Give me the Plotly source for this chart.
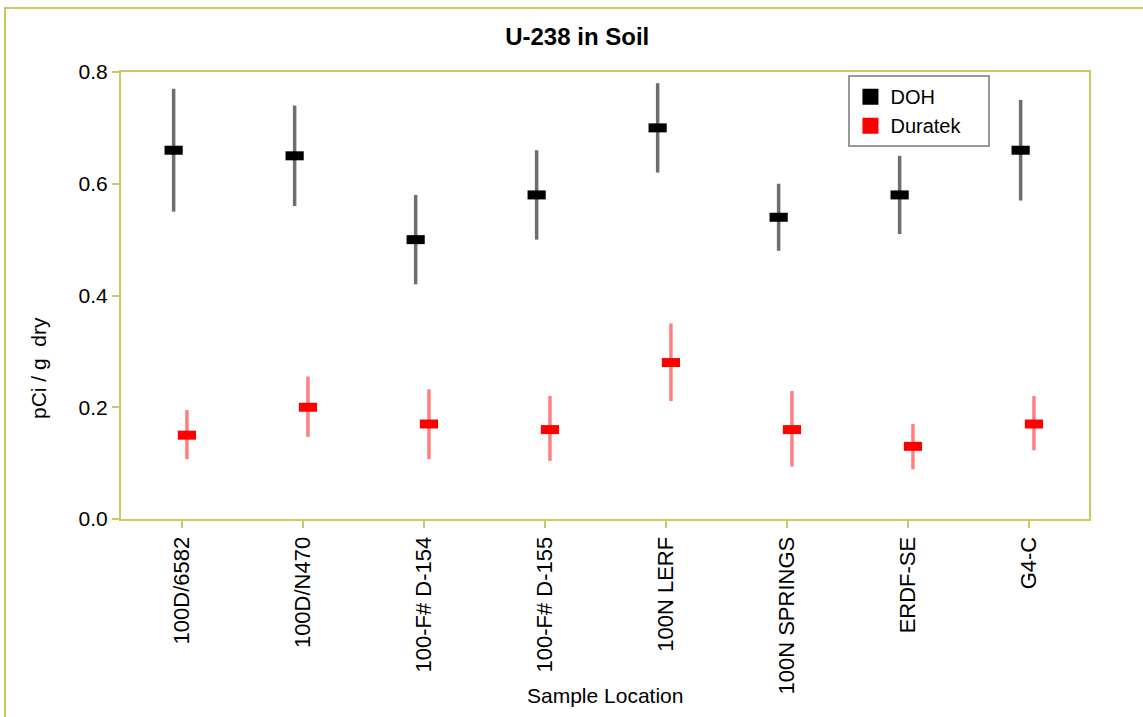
import plotly.graph_objects as go

categories = ["100D/6582", "100D/N470", "100-F# D-154", "100-F# D-155",
              "100N LERF", "100N SPRINGS", "ERDF-SE", "G4-C"]

doh_value = [0.66, 0.65, 0.50, 0.58, 0.70, 0.54, 0.58, 0.66]
doh_high = [0.77, 0.74, 0.58, 0.66, 0.78, 0.60, 0.65, 0.75]
doh_low = [0.55, 0.56, 0.42, 0.50, 0.62, 0.48, 0.51, 0.57]

duratek_value = [0.15, 0.20, 0.17, 0.16, 0.28, 0.16, 0.13, 0.17]
duratek_high = [0.195, 0.255, 0.232, 0.22, 0.35, 0.229, 0.17, 0.22]
duratek_low = [0.107, 0.147, 0.107, 0.104, 0.211, 0.094, 0.089, 0.123]

y_ticks = [0.0, 0.2, 0.4, 0.6, 0.8]
y_tick_text = ["0.0", "0.2", "0.4", "0.6", "0.8"]

OLIVE = "#c9c95e"
FONT = "Liberation Sans, Arial, sans-serif"

idx = list(range(len(categories)))
x_doh = [i - 0.065 for i in idx]
x_dur = [i + 0.045 for i in idx]

fig = go.Figure()

fig.add_trace(go.Scatter(
    x=x_doh, y=doh_value, mode="markers", name="DOH", showlegend=False,
    marker=dict(symbol="line-ew", size=13, color="black",
                line=dict(color="black", width=9)),
    error_y=dict(type="data", symmetric=False,
                 array=[h - v for h, v in zip(doh_high, doh_value)],
                 arrayminus=[v - l for v, l in zip(doh_value, doh_low)],
                 color="#6e6e6e", thickness=3.5, width=0),
))
fig.add_trace(go.Scatter(
    x=x_dur, y=duratek_value, mode="markers", name="Duratek", showlegend=False,
    marker=dict(symbol="line-ew", size=13, color="red",
                line=dict(color="red", width=9)),
    error_y=dict(type="data", symmetric=False,
                 array=[h - v for h, v in zip(duratek_high, duratek_value)],
                 arrayminus=[v - l for v, l in zip(duratek_value, duratek_low)],
                 color="#ff8080", thickness=3.5, width=0),
))
# legend entries
fig.add_trace(go.Scatter(x=[None], y=[None], mode="markers", name="DOH",
                         marker=dict(symbol="square", size=24, color="black")))
fig.add_trace(go.Scatter(x=[None], y=[None], mode="markers",
                         name="Duratek\u00a0\u00a0\u00a0\u00a0",
                         marker=dict(symbol="square", size=24, color="red")))

fig.update_layout(
    width=1143, height=717,
    margin=dict(l=121, r=54, t=72, b=198),
    paper_bgcolor="white", plot_bgcolor="white",
    font=dict(family=FONT, size=21, color="black"),
    title=dict(text="<b>U-238 in Soil</b>", x=0.505, xanchor="center",
               y=1 - 37 / 717, yanchor="middle",
               font=dict(family=FONT, size=24, color="black")),
    showlegend=True,
    legend=dict(x=0.7515, y=0.993, xanchor="left", yanchor="top",
                bgcolor="white", bordercolor="#999999", borderwidth=2,
                font=dict(family=FONT, size=20, color="black"),
                itemsizing="trace", tracegroupgap=0),
    xaxis=dict(range=[-0.5, 7.5], tickmode="array", tickvals=idx,
               ticktext=categories, tickangle=-90,
               showgrid=False, zeroline=False,
               showline=True, linecolor=OLIVE, linewidth=2, mirror=True,
               ticks="outside", ticklen=7, tickwidth=2, tickcolor=OLIVE,
               tickfont=dict(family=FONT, size=22, color="black")),
    yaxis=dict(range=[0, 0.8], tickmode="array", tickvals=y_ticks,
               ticktext=y_tick_text,
               showgrid=False, zeroline=False,
               showline=True, linecolor=OLIVE, linewidth=2, mirror=True,
               ticks="outside", ticklen=7, tickwidth=2, tickcolor=OLIVE,
               tickfont=dict(family=FONT, size=21, color="black")),
    annotations=[
        dict(text="Sample Location", xref="paper", yref="paper",
             x=0.5, y=(519 - 695) / 447, xanchor="center", yanchor="middle",
             showarrow=False, font=dict(family=FONT, size=21, color="black")),
        dict(text="pCi / g  dry", xref="paper", yref="paper",
             x=(38 - 121) / 968, y=(519 - 368) / 447, xanchor="center",
             yanchor="middle", textangle=-90, showarrow=False,
             font=dict(family=FONT, size=21, color="black")),
    ],
    shapes=[
        dict(type="rect", xref="paper", yref="paper",
             x0=(5 - 121) / 968, x1=1.2, y0=-0.6, y1=(519 - 8) / 447,
             line=dict(color=OLIVE, width=2), layer="below"),
    ],
)

fig.write_html("out.html", config={"displayModeBar": False},
               post_script="document.body.style.margin='0';")
